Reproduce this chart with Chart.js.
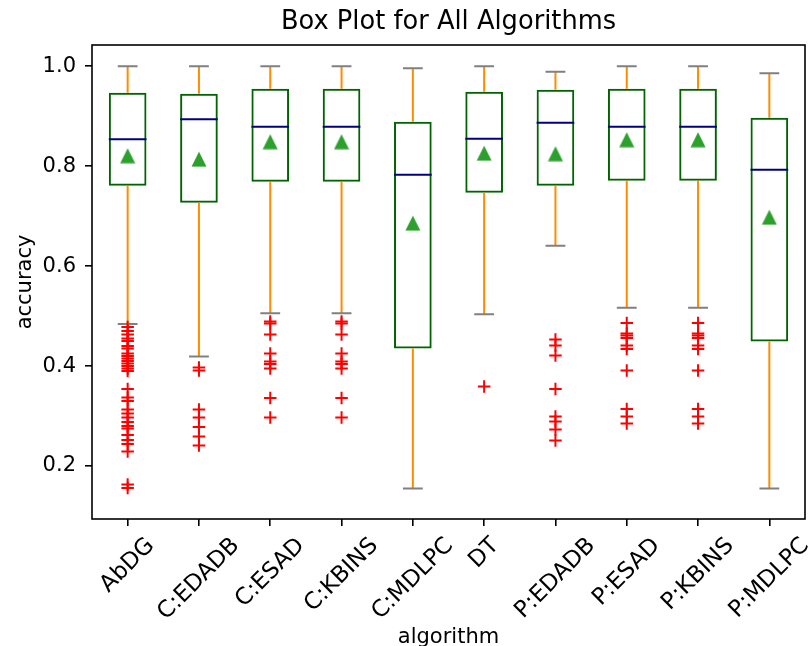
<!DOCTYPE html>
<html>
<head>
<meta charset="utf-8">
<script src="https://cdn.jsdelivr.net/npm/chart.js@4.4.0/dist/chart.umd.min.js"></script>
<style>
  body { margin: 0; background: #fff; }
</style>
</head>
<body>
<canvas id="chart" width="809" height="646"></canvas>
<script>
const categories = ['AbDG', 'C:EDADB', 'C:ESAD', 'C:KBINS', 'C:MDLPC', 'DT', 'P:EDADB', 'P:ESAD', 'P:KBINS', 'P:MDLPC'];
const whiskerLow = [0.484, 0.419, 0.506, 0.506, 0.155, 0.504, 0.641, 0.517, 0.517, 0.155];
const q1 = [0.761, 0.727, 0.769, 0.769, 0.435, 0.747, 0.761, 0.771, 0.771, 0.449];
const medians = [0.854, 0.894, 0.879, 0.879, 0.783, 0.855, 0.887, 0.879, 0.879, 0.793];
const q3 = [0.947, 0.945, 0.955, 0.955, 0.889, 0.949, 0.953, 0.955, 0.955, 0.897];
const whiskerHigh = [1.0, 1.0, 1.0, 1.0, 0.996, 1.0, 0.989, 1.0, 1.0, 0.986];
const means = [0.821, 0.814, 0.849, 0.849, 0.686, 0.826, 0.825, 0.853, 0.853, 0.698];
const outliers = [
  [0.478, 0.47, 0.463, 0.455, 0.45, 0.44, 0.435, 0.425, 0.42, 0.415, 0.41, 0.405, 0.40, 0.395, 0.39,
   0.354, 0.337, 0.33, 0.313, 0.305, 0.297, 0.288, 0.28, 0.275, 0.262, 0.252, 0.244, 0.229, 0.163, 0.156],
  [0.397, 0.391, 0.313, 0.297, 0.278, 0.259, 0.241],
  [0.489, 0.485, 0.463, 0.425, 0.409, 0.404, 0.395, 0.336, 0.297],
  [0.489, 0.485, 0.463, 0.425, 0.409, 0.404, 0.395, 0.336, 0.297],
  [],
  [0.359],
  [0.453, 0.441, 0.421, 0.354, 0.299, 0.289, 0.273, 0.251],
  [0.486, 0.465, 0.461, 0.456, 0.441, 0.434, 0.391, 0.314, 0.299, 0.285],
  [0.486, 0.465, 0.461, 0.456, 0.441, 0.434, 0.391, 0.314, 0.299, 0.285],
  []
];
const yTicks = [0.2, 0.4, 0.6, 0.8, 1.0];
const title = 'Box Plot for All Algorithms';

Chart.defaults.font.family = "'DejaVu Sans', sans-serif";
Chart.defaults.color = '#000';

// green triangle marker for the means
const tri = document.createElement('canvas');
tri.width = 16;
tri.height = 16;
const tctx = tri.getContext('2d');
tctx.fillStyle = '#2ca02c';
tctx.beginPath();
tctx.moveTo(8, 0.5);
tctx.lineTo(15.5, 15.5);
tctx.lineTo(0.5, 15.5);
tctx.closePath();
tctx.fill();

// whiskers, caps and medians, drawn right after the boxes
const boxParts = {
  id: 'boxParts',
  afterDatasetDraw(chart, args) {
    if (args.index !== 0) return;
    const { ctx, scales: { x, y } } = chart;
    const bars = chart.getDatasetMeta(0).data;
    ctx.save();
    ctx.lineWidth = 2;
    bars.forEach((bar, i) => {
      const cx = x.getPixelForValue(i);
      const w = bar.width;
      ctx.strokeStyle = '#ff8c00';
      ctx.lineCap = 'butt';
      ctx.beginPath();
      ctx.moveTo(cx, y.getPixelForValue(q1[i]));
      ctx.lineTo(cx, y.getPixelForValue(whiskerLow[i]));
      ctx.moveTo(cx, y.getPixelForValue(q3[i]));
      ctx.lineTo(cx, y.getPixelForValue(whiskerHigh[i]));
      ctx.stroke();

      const cw = (w - 2) / 4;
      ctx.strokeStyle = '#808080';
      ctx.lineCap = 'square';
      ctx.beginPath();
      ctx.moveTo(cx - cw, y.getPixelForValue(whiskerLow[i]));
      ctx.lineTo(cx + cw, y.getPixelForValue(whiskerLow[i]));
      ctx.moveTo(cx - cw, y.getPixelForValue(whiskerHigh[i]));
      ctx.lineTo(cx + cw, y.getPixelForValue(whiskerHigh[i]));
      ctx.stroke();

      ctx.strokeStyle = '#000080';
      ctx.lineCap = 'butt';
      ctx.beginPath();
      ctx.moveTo(cx - w / 2, y.getPixelForValue(medians[i]));
      ctx.lineTo(cx + w / 2, y.getPixelForValue(medians[i]));
      ctx.stroke();
    });
    ctx.restore();
  }
};

const frame = {
  id: 'frame',
  afterDatasetsDraw(chart) {
    const { ctx, chartArea: a } = chart;
    ctx.save();
    ctx.strokeStyle = '#000';
    ctx.lineWidth = 1.6;
    ctx.strokeRect(a.left, a.top, a.right - a.left, a.bottom - a.top);
    ctx.restore();
  }
};

// title centred over the plot area, rotated category labels centred under each tick
const texts = {
  id: 'texts',
  afterDraw(chart) {
    const { ctx, chartArea, scales: { x } } = chart;
    ctx.save();
    ctx.fillStyle = '#000';
    ctx.textAlign = 'center';
    ctx.textBaseline = 'alphabetic';
    ctx.font = "25.7px 'DejaVu Sans'";
    ctx.fillText(title, (chartArea.left + chartArea.right) / 2, 29);

    ctx.font = "23px 'DejaVu Sans'";
    ctx.textBaseline = 'middle';
    const top = chartArea.bottom + 14;
    categories.forEach((c, i) => {
      const s = (ctx.measureText(c).width + 26) / Math.SQRT2;
      ctx.save();
      ctx.translate(x.getPixelForValue(i), top + s / 2);
      ctx.rotate(-Math.PI / 4);
      ctx.fillText(c, 0, 0);
      ctx.restore();
    });
    ctx.restore();
  }
};

const flierPoints = [];
outliers.forEach((list, i) => list.forEach(v => flierPoints.push({ x: categories[i], y: v })));

new Chart(document.getElementById('chart'), {
  type: 'bar',
  data: {
    labels: categories,
    datasets: [
      {
        type: 'bar',
        data: categories.map((c, i) => [q1[i], q3[i]]),
        backgroundColor: 'rgba(0,0,0,0)',
        borderColor: '#006400',
        borderWidth: 2,
        borderSkipped: false,
        barPercentage: 0.528,
        categoryPercentage: 1,
        order: 3
      },
      {
        type: 'line',
        data: flierPoints,
        showLine: false,
        pointStyle: 'cross',
        pointRadius: 6.25,
        pointBorderWidth: 2,
        pointBorderColor: '#ff0000',
        order: 2
      },
      {
        type: 'line',
        data: means.map((m, i) => ({ x: categories[i], y: m })),
        showLine: false,
        pointStyle: tri,
        order: 1
      }
    ]
  },
  options: {
    responsive: false,
    animation: false,
    devicePixelRatio: 1,
    layout: { autoPadding: false, padding: { top: 45, right: 4, bottom: 0, left: 0 } },
    plugins: {
      legend: { display: false },
      tooltip: { enabled: false }
    },
    scales: {
      x: {
        grid: { offset: false, drawOnChartArea: false, drawTicks: true, tickLength: 7, lineWidth: 1.6, tickWidth: 1.6, tickColor: '#000' },
        border: { display: false },
        ticks: { display: false },
        title: { display: true, text: 'algorithm', font: { size: 21 }, padding: { top: 0, bottom: -4 } },
        afterFit(scale) { scale.height = 127; }
      },
      y: {
        min: 0.094,
        max: 1.0426,
        afterBuildTicks(scale) { scale.ticks = yTicks.map(v => ({ value: v })); },
        ticks: { callback: v => v.toFixed(1), font: { size: 21 }, padding: 9 },
        grid: { drawOnChartArea: false, drawTicks: true, tickLength: 7, lineWidth: 1.6, tickWidth: 1.6, tickColor: '#000' },
        border: { display: false },
        title: { display: true, text: 'accuracy', font: { size: 21 }, padding: { top: 13, bottom: 0 } },
        afterFit(scale) { scale.width = 92; }
      }
    }
  },
  plugins: [boxParts, frame, texts]
});
</script>
</body>
</html>
